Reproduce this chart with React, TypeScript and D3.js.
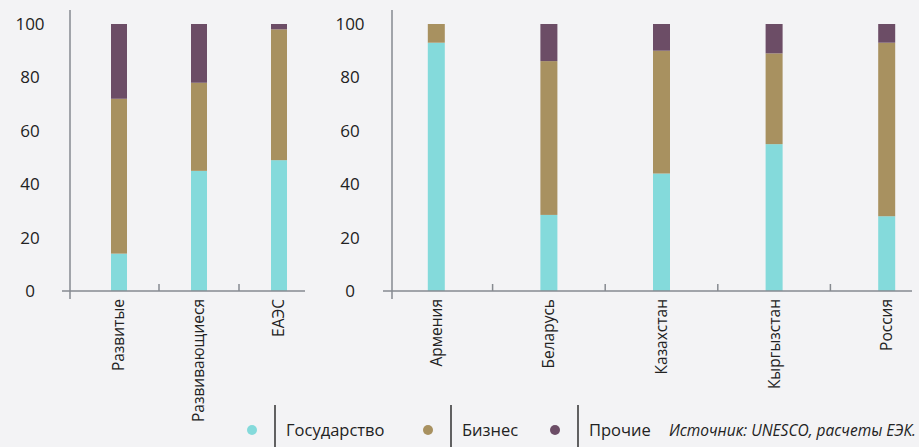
import * as d3 from "d3";

const groupCats = ["Развитые", "Развивающиеся", "ЕАЭС"];
const groupGov = [14, 45, 49];
const groupBiz = [58, 33, 49];
const groupOther = [28, 22, 2];

const countryCats = ["Армения", "Беларусь", "Казахстан", "Кыргызстан", "Россия"];
const countryGov = [93, 28.5, 44, 55, 28];
const countryBiz = [7, 57.6, 46, 34, 65];
const countryOther = [0, 13.9, 10, 11, 7];

const yTicks = [0, 20, 40, 60, 80, 100];
const seriesNames = ["Государство", "Бизнес", "Прочие"];
const colors = ["#84DADB", "#A89160", "#6C4D66"];
const source = "Источник: UNESCO, расчеты ЕЭК.";

const W = 919;
const H = 447;
const font = "'Open Sans', 'Noto Sans', sans-serif";

const y = d3.scaleLinear().domain([0, 100]).range([291, 24]);

interface PanelProps {
  cats: string[];
  gov: number[];
  biz: number[];
  other: number[];
  axisX: number;
  labelX: number;
  bandStart: number;
  bandEnd: number;
  lineStart: number;
  lineEnd: number;
  barW: number;
}

function Panel({ cats, gov, biz, other, axisX, labelX, bandStart, bandEnd, lineStart, lineEnd, barW }: PanelProps) {
  const x = d3.scaleBand<string>().domain(cats).range([bandStart, bandEnd]);
  const rows = cats.map((c, i) => ({ cat: c, v: [gov[i], biz[i], other[i]] }));
  const stack = d3.stack<{ cat: string; v: number[] }, number>()
    .keys([0, 1, 2])
    .value((d, k) => d.v[k]);
  const layers = stack(rows);
  const base = y(0);

  return (
    <g>
      {layers.map((layer, li) => (
        <g key={li} fill={colors[li]}>
          {layer.map((seg, i) => (
            <rect
              key={i}
              x={x(cats[i])! + x.bandwidth() / 2 - barW / 2}
              y={y(seg[1])}
              width={barW}
              height={Math.max(0, y(seg[0]) - y(seg[1]))}
            />
          ))}
        </g>
      ))}
      <line x1={axisX} x2={axisX} y1={10} y2={299} stroke="#868a90" strokeWidth={1.5} />
      <line x1={lineStart} x2={lineEnd} y1={base} y2={base} stroke="#868a90" strokeWidth={1.5} />
      {cats.slice(1).map((c) => (
        <line key={c} x1={x(c)} x2={x(c)} y1={base - 7} y2={base} stroke="#868a90" strokeWidth={1.5} />
      ))}
      {yTicks.map((t) => (
        <text key={t} x={labelX} y={y(t)} dy="0.35em" textAnchor="middle" fontSize={17} fill="#222">
          {t}
        </text>
      ))}
      {cats.map((c) => (
        <text
          key={c}
          transform={`translate(${x(c)! + x.bandwidth() / 2},299) rotate(-90)`}
          textAnchor="end"
          dy="0.35em"
          fontSize={15.5}
          fill="#222"
        >
          {c}
        </text>
      ))}
    </g>
  );
}

export default function App() {
  const legendX = [252, 428, 555];
  return (
    <div style={{ position: "fixed", left: 0, top: 0, width: W, height: H, background: "#F3F3F5" }}>
      <svg width={W} height={H} fontFamily={font}>
        <Panel
          cats={groupCats}
          gov={groupGov}
          biz={groupBiz}
          other={groupOther}
          axisX={70}
          labelX={30}
          bandStart={79}
          bandEnd={319}
          lineStart={62}
          lineEnd={305}
          barW={16}
        />
        <Panel
          cats={countryCats}
          gov={countryGov}
          biz={countryBiz}
          other={countryOther}
          axisX={392}
          labelX={350}
          bandStart={380}
          bandEnd={943}
          lineStart={383}
          lineEnd={912}
          barW={17}
        />
        {seriesNames.map((s, i) => (
          <g key={s}>
            <circle cx={legendX[i]} cy={430} r={5} fill={colors[i]} />
            <line x1={legendX[i] + 23} x2={legendX[i] + 23} y1={405} y2={447} stroke="#111" strokeWidth={1.3} />
            <text x={legendX[i] + 34} y={430} dy="0.35em" fontSize={16.5} fill="#222">
              {s}
            </text>
          </g>
        ))}
        <text x={916} y={431} dy="0.35em" textAnchor="end" fontSize={15.5} fontStyle="italic" fill="#222">
          {source}
        </text>
      </svg>
    </div>
  );
}
